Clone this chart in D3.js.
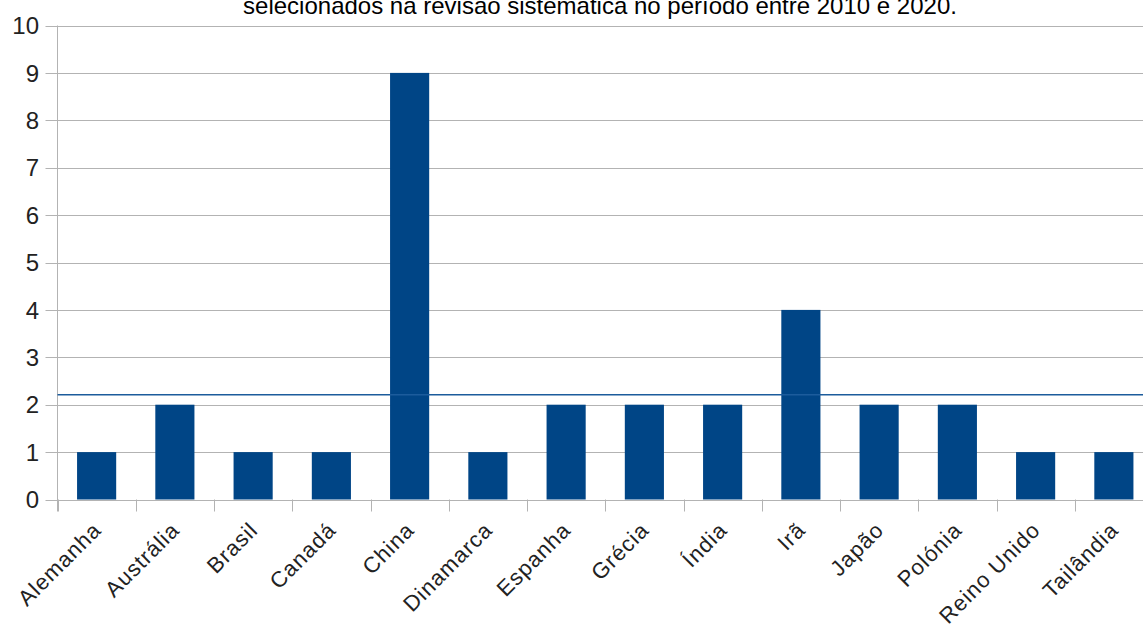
<!DOCTYPE html>
<html><head><meta charset="utf-8">
<script src="https://cdn.jsdelivr.net/npm/d3@7"></script>
<style>html,body{margin:0;padding:0;background:#fff;overflow:hidden}</style>
</head><body>
<svg id="chart" width="1143" height="624"></svg>
<script>
const title = "selecionados na revisão sistemática no período entre 2010 e 2020.";
const categories = ["Alemanha","Austrália","Brasil","Canadá","China","Dinamarca","Espanha","Grécia","Índia","Irã","Japão","Polónia","Reino Unido","Tailândia"];
const values = [1,2,1,1,9,1,2,2,2,4,2,2,1,1];
const averageValue = [2.21];
const yTicks = [0,1,2,3,4,5,6,7,8,9,10];

(function(){
const svg = d3.select("#chart");
const mLeft = 57.5, mRight = 1153, mTop = 25.5, mBottom = 499.5;
const x = d3.scaleBand().domain(categories).range([mLeft, mRight]).paddingInner(0.5).paddingOuter(0.25);
const y = d3.scaleLinear().domain([0,10]).range([mBottom, mTop]);
const font = "'Liberation Sans', Arial, sans-serif";
const grid = "#b3b3b3";

svg.append("g").selectAll("line").data(yTicks).join("line")
  .attr("x1", mLeft - 12).attr("x2", 1143)
  .attr("y1", d => Math.round(y(d)) + 0.5).attr("y2", d => Math.round(y(d)) + 0.5)
  .attr("stroke", grid).attr("stroke-width", 1);

svg.append("line").attr("x1", mLeft).attr("x2", mLeft).attr("y1", mTop).attr("y2", mBottom + 12)
  .attr("stroke", grid).attr("stroke-width", 1);

const boundaries = categories.map(c => x(c) - x.bandwidth() * 0.5);
svg.append("g").selectAll("line").data(boundaries).join("line")
  .attr("x1", d => Math.round(d) + 0.5).attr("x2", d => Math.round(d) + 0.5)
  .attr("y1", mBottom).attr("y2", mBottom + 12)
  .attr("stroke", grid).attr("stroke-width", 1);

svg.append("g").selectAll("text").data(yTicks).join("text")
  .attr("x", 39).attr("y", d => y(d))
  .attr("dy", "0.36em").attr("text-anchor", "end")
  .attr("font-family", font).attr("font-size", 24).attr("fill", "#222")
  .text(d => d);

svg.append("g").selectAll("rect").data(values).join("rect")
  .attr("x", (d, i) => x(categories[i]))
  .attr("width", x.bandwidth())
  .attr("y", d => y(d))
  .attr("height", d => y(0) - y(d))
  .attr("fill", "#004586");

svg.append("g").selectAll("line").data(averageValue).join("line")
  .attr("x1", mLeft).attr("x2", 1143)
  .attr("y1", d => y(d)).attr("y2", d => y(d))
  .attr("stroke", "#1c5c9c").attr("stroke-width", 1.5);

svg.append("g").selectAll("text").data(categories).join("text")
  .attr("transform", d => `translate(${x(d) + x.bandwidth()/2 + 6},${mBottom + 32}) rotate(-45)`)
  .attr("text-anchor", "end")
  .attr("letter-spacing", 1)
  .attr("font-family", font).attr("font-size", 22).attr("fill", "#222")
  .text(d => d);

svg.append("text").attr("x", 600).attr("y", 14)
  .attr("text-anchor", "middle").attr("font-family", font).attr("font-size", 24).attr("fill", "#000")
  .text(title);
})();
</script>
</body></html>
